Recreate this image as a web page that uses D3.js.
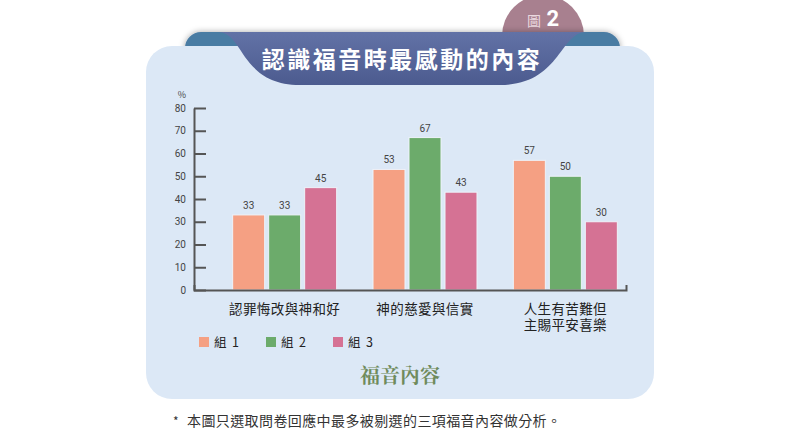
<!DOCTYPE html>
<html>
<head>
<meta charset="utf-8">
<script src="https://cdn.jsdelivr.net/npm/d3@7"></script>
<style>
  body { margin: 0; background: #fff; }
  svg { display: block; font-family: "Noto Sans CJK TC", "Noto Sans", sans-serif; }
</style>
</head>
<body>
<div id="chart"></div>
<script>
// data
const categories = ['認罪悔改與神和好', '神的慈愛與信實', '人生有苦難但\n主賜平安喜樂'];
const seriesNames = ['組 1', '組 2', '組 3'];
const group1 = [33, 53, 57];
const group2 = [33, 67, 50];
const group3 = [45, 43, 30];
const yTicks = [0, 10, 20, 30, 40, 50, 60, 70, 80];
const colors = ['#f5a083', '#6cab6b', '#d57294'];

const width = 800, height = 436;
const svg = d3.select('#chart').append('svg')
    .attr('width', width)
    .attr('height', height);

const defs = svg.append('defs');
defs.append('filter').attr('id', 'shadow')
    .attr('x', '-10%').attr('y', '-50%').attr('width', '120%').attr('height', '200%')
  .append('feDropShadow')
    .attr('dx', 0).attr('dy', 0).attr('stdDeviation', 3)
    .attr('flood-color', '#000').attr('flood-opacity', 0.35);
const grad = defs.append('linearGradient').attr('id', 'band')
    .attr('x1', 0).attr('y1', 0).attr('x2', 0).attr('y2', 1);
grad.append('stop').attr('offset', '0%').attr('stop-color', '#6272a6');
grad.append('stop').attr('offset', '100%').attr('stop-color', '#4c5b8f');

// "圖 2" tab
svg.append('circle')
    .attr('cx', 543).attr('cy', 36).attr('r', 41)
    .attr('fill', '#a8808f');
const tabText = svg.append('text')
    .attr('x', 543).attr('y', 26)
    .attr('text-anchor', 'middle')
    .attr('fill', '#fff');
tabText.append('tspan').text('圖').attr('font-size', 14).attr('fill', '#ead8df');
tabText.append('tspan').text(' 2').attr('font-size', 22).attr('font-weight', 'bold')
    .attr('font-family', 'Roboto, sans-serif');

// teal ribbon ends behind the panel
svg.append('rect')
    .attr('x', 185).attr('y', 32).attr('width', 435).attr('height', 40)
    .attr('rx', 16)
    .attr('fill', '#4a7ba3')
    .attr('filter', 'url(#shadow)');

// panel
svg.append('rect')
    .attr('x', 146).attr('y', 46).attr('width', 508).attr('height', 353)
    .attr('rx', 26)
    .attr('fill', '#dce8f6');

// title band
svg.append('path')
    .attr('d', 'M218,32 L586,32 C560,32 560,85 500,85 L300,85 C240,85 244,32 218,32 Z')
    .attr('fill', 'url(#band)');
svg.append('text')
    .attr('x', 402).attr('y', 68)
    .attr('text-anchor', 'middle')
    .attr('fill', '#fff')
    .attr('font-size', 23)
    .attr('font-weight', 'bold')
    .attr('letter-spacing', 2.5)
    .text('認識福音時最感動的內容');

// scales
const y = d3.scaleLinear().domain([0, 80]).range([290, 108]);
const x0 = d3.scaleBand().domain(categories).range([214.5, 635.5]);
const x1 = d3.scaleBand().domain(seriesNames).range([0, 104]).paddingInner(4 / 36);

const table = categories.map((c, i) => ({
    category: c,
    values: [group1[i], group2[i], group3[i]].map((v, j) => ({ key: seriesNames[j], value: v, color: colors[j] }))
}));

// y axis
const yAxis = svg.append('g')
    .attr('transform', 'translate(194,0)')
    .call(d3.axisLeft(y).tickValues(yTicks).tickSize(-12).tickSizeOuter(0).tickPadding(8));
yAxis.select('.domain').attr('stroke', '#555').attr('stroke-width', 2);
yAxis.selectAll('.tick line').attr('stroke', '#555').attr('stroke-width', 2);
yAxis.selectAll('.tick text').attr('fill', '#444').attr('font-size', 10)
    .attr('font-family', 'Roboto, "Noto Sans", sans-serif');
svg.append('text')
    .attr('x', 182).attr('y', 98)
    .attr('text-anchor', 'middle')
    .attr('fill', '#444').attr('font-size', 9)
    .text('%');

// bars
const groups = svg.append('g').selectAll('g')
    .data(table)
    .join('g')
    .attr('transform', d => `translate(${x0(d.category) + x0.bandwidth() / 2 - 52},0)`);

groups.selectAll('rect')
    .data(d => d.values)
    .join('rect')
    .attr('x', d => x1(d.key))
    .attr('y', d => y(d.value))
    .attr('width', x1.bandwidth())
    .attr('height', d => y(0) - y(d.value))
    .attr('fill', d => d.color)
    .attr('stroke', '#eef3fa')
    .attr('stroke-width', 1);

groups.selectAll('text.val')
    .data(d => d.values)
    .join('text')
    .attr('class', 'val')
    .attr('x', d => x1(d.key) + x1.bandwidth() / 2)
    .attr('y', d => y(d.value) - 6)
    .attr('text-anchor', 'middle')
    .attr('fill', '#444')
    .attr('font-size', 10)
    .attr('font-family', 'Roboto, "Noto Sans", sans-serif')
    .text(d => d.value);

// x axis baseline
const xAxis = svg.append('g')
    .attr('transform', `translate(0,${y(0)})`)
    .call(d3.axisBottom(d3.scaleLinear().range([194, 626])).tickValues([]).tickSizeOuter(-5));
xAxis.select('.domain').attr('stroke', '#555').attr('stroke-width', 2);

// category labels, one text per line
const labelLines = categories.flatMap(c => c.split('\n').map((line, i) => ({ c, line, i })));
svg.append('g').selectAll('text')
    .data(labelLines)
    .join('text')
    .attr('x', d => x0(d.c) + x0.bandwidth() / 2)
    .attr('y', d => 314 + d.i * 16)
    .attr('text-anchor', 'middle')
    .attr('fill', '#222')
    .attr('font-size', 13.5)
    .attr('letter-spacing', 0.4)
    .text(d => d.line);

// legend
const legend = svg.append('g').selectAll('g')
    .data(seriesNames)
    .join('g')
    .attr('transform', (d, i) => `translate(${199 + i * 67},337)`);
legend.append('rect')
    .attr('width', 10).attr('height', 10)
    .attr('fill', (d, i) => colors[i]);
legend.append('text')
    .attr('x', 15).attr('y', 9.5)
    .attr('fill', '#222')
    .attr('font-size', 12.5)
    .attr('xml:space', 'preserve')
    .text(d => d.replace(' ', '  '));

// x axis title
svg.append('text')
    .attr('x', 400).attr('y', 383)
    .attr('text-anchor', 'middle')
    .attr('fill', '#6f8b5c')
    .attr('font-size', 20)
    .attr('font-weight', 'bold')
    .attr('font-family', '"Noto Serif CJK TC", "Noto Sans CJK TC", serif')
    .text('福音內容');

// footnote
svg.append('text')
    .attr('x', 173).attr('y', 426)
    .attr('fill', '#333')
    .attr('font-size', 12)
    .text('*');
svg.append('text')
    .attr('x', 187).attr('y', 426)
    .attr('fill', '#333')
    .attr('font-size', 14)
    .attr('letter-spacing', 0.4)
    .text('本圖只選取問卷回應中最多被剔選的三項福音內容做分析。');
</script>
</body>
</html>
